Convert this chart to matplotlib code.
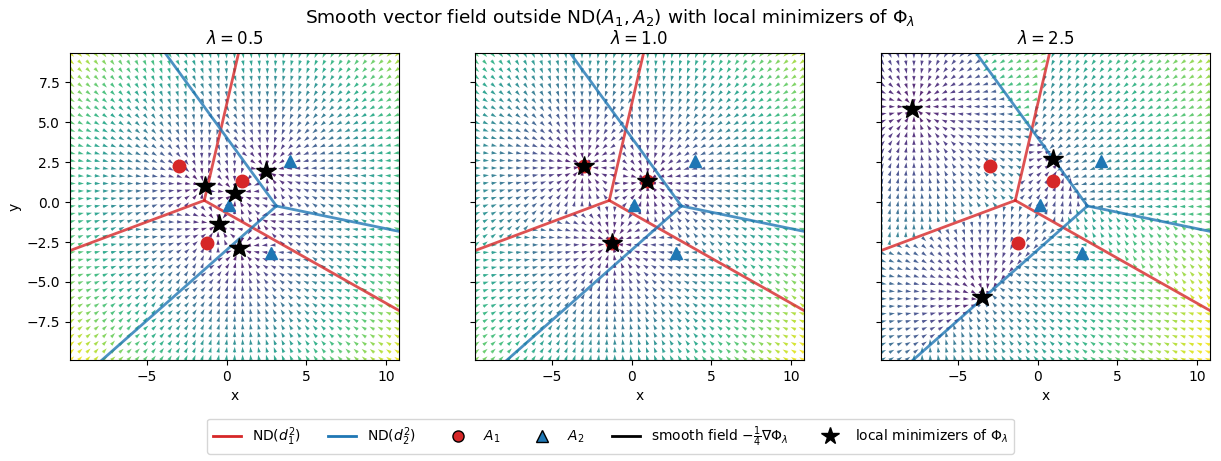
import numpy as np
import matplotlib
matplotlib.use('Agg')
import matplotlib.pyplot as plt
from matplotlib.lines import Line2D

# point sets
A1 = np.array([[-3.0, 2.25], [1.0, 1.32], [-1.2, -2.57]])
A2 = np.array([[0.15, -0.2], [4.0, 2.6], [2.8, -3.2]])

lambdas = [0.5, 1.0, 2.5]

# local minimizers
minimizers = {
    0.5: [[-1.35, 1.0], [0.55, 0.58], [2.5, 1.95], [-0.5, -1.4], [0.8, -2.9]],
    1.0: [[-3.0, 2.25], [1.0, 1.32], [-1.2, -2.57]],
    2.5: [[-7.85, 5.8], [1.0, 2.7], [-3.5, -5.95]],
}

xlim = (-9.8, 10.8)
ylim = (-9.9, 9.35)
ngrid = 41


def voronoi_rays(P):
    # circumcenter of 3 points + the three outgoing bisector rays
    (x1, y1), (x2, y2), (x3, y3) = P
    d = 2 * (x1*(y2-y3) + x2*(y3-y1) + x3*(y1-y2))
    ux = ((x1**2+y1**2)*(y2-y3) + (x2**2+y2**2)*(y3-y1) + (x3**2+y3**2)*(y1-y2)) / d
    uy = ((x1**2+y1**2)*(x3-x2) + (x2**2+y2**2)*(x1-x3) + (x3**2+y3**2)*(x2-x1)) / d
    c = np.array([ux, uy])
    rays = []
    for i, j, k in [(0, 1, 2), (0, 2, 1), (1, 2, 0)]:
        e = P[j] - P[i]
        dvec = np.array([-e[1], e[0]])
        if np.dot(dvec, P[k] - P[i]) > 0:
            dvec = -dvec
        dvec = dvec / np.linalg.norm(dvec)
        rays.append((c, c + 60 * dvec))
    return rays


def field(X, Y, lam):
    pts = np.stack([X, Y], axis=-1)
    i1 = np.argmin(((pts[..., None, :] - A1) ** 2).sum(-1), axis=-1)
    i2 = np.argmin(((pts[..., None, :] - A2) ** 2).sum(-1), axis=-1)
    a = A1[i1]
    b = A2[i2]
    grad = 2 * lam * (pts - a) - 2 * (lam - 1) * (pts - b)
    F = -0.25 * grad
    return F[..., 0], F[..., 1]


fig = plt.figure(figsize=(12.21, 4.61), dpi=100)
lefts = [70, 475, 881]
axes = []
for n, lam in enumerate(lambdas):
    ax = fig.add_axes([lefts[n] / 1221, 100 / 461, 329 / 1221, 309 / 461])
    axes.append(ax)

    gx = np.linspace(xlim[0], xlim[1], ngrid)
    gy = np.linspace(ylim[0], ylim[1], ngrid)
    X, Y = np.meshgrid(gx, gy)
    U, V = field(X, Y, lam)
    M = np.hypot(U, V)
    Mn = np.where(M == 0, 1, M)
    ax.quiver(X, Y, U / Mn, V / Mn, M, cmap='viridis', angles='xy',
              scale_units='xy', scale=1 / 0.36, width=0.004, alpha=0.9, zorder=1)

    for p, q in voronoi_rays(A1):
        ax.plot([p[0], q[0]], [p[1], q[1]], color='#d62728', alpha=0.8, lw=2, zorder=2)
    for p, q in voronoi_rays(A2):
        ax.plot([p[0], q[0]], [p[1], q[1]], color='#1f77b4', alpha=0.8, lw=2, zorder=2)

    ax.plot(A1[:, 0], A1[:, 1], 'o', color='#d62728', ms=9, zorder=3)
    ax.plot(A2[:, 0], A2[:, 1], '^', color='#1f77b4', ms=9, zorder=3)
    mins = np.array(minimizers[lam])
    ax.plot(mins[:, 0], mins[:, 1], '*', color='k', ms=15, zorder=4)

    ax.set_xlim(xlim)
    ax.set_ylim(ylim)
    ax.set_aspect('equal', adjustable='box')
    ax.set_title(r'$\lambda = %.1f$' % lam, fontsize=12)
    ax.set_xlabel('x')
    if n == 0:
        ax.set_ylabel('y')
    else:
        ax.tick_params(labelleft=False)
    ax.set_xticks([-5, 0, 5, 10])
    ax.set_yticks([-7.5, -5, -2.5, 0, 2.5, 5, 7.5])

fig.suptitle(r'Smooth vector field outside ND($A_1, A_2$) with local minimizers of $\Phi_\lambda$',
             fontsize=13.3, y=0.985)

handles = [
    Line2D([], [], color='#d62728', lw=2),
    Line2D([], [], color='#1f77b4', lw=2),
    Line2D([], [], ls='none', marker='o', color='#d62728', mec='k', ms=8),
    Line2D([], [], ls='none', marker='^', color='#1f77b4', mec='k', ms=8),
    Line2D([], [], color='k', lw=2),
    Line2D([], [], ls='none', marker='*', color='k', ms=13),
]
labels = [r'ND($d_1^2$)', r'ND($d_2^2$)', r'$A_1$', r'$A_2$',
          r'smooth field $-\frac{1}{4}\nabla\Phi_\lambda$', r'local minimizers of $\Phi_\lambda$']
fig.legend(handles, labels, loc='lower center', ncol=6, bbox_to_anchor=(0.5, 0.0),
           fontsize=10, frameon=True)

fig.savefig('out.png', dpi=100)
